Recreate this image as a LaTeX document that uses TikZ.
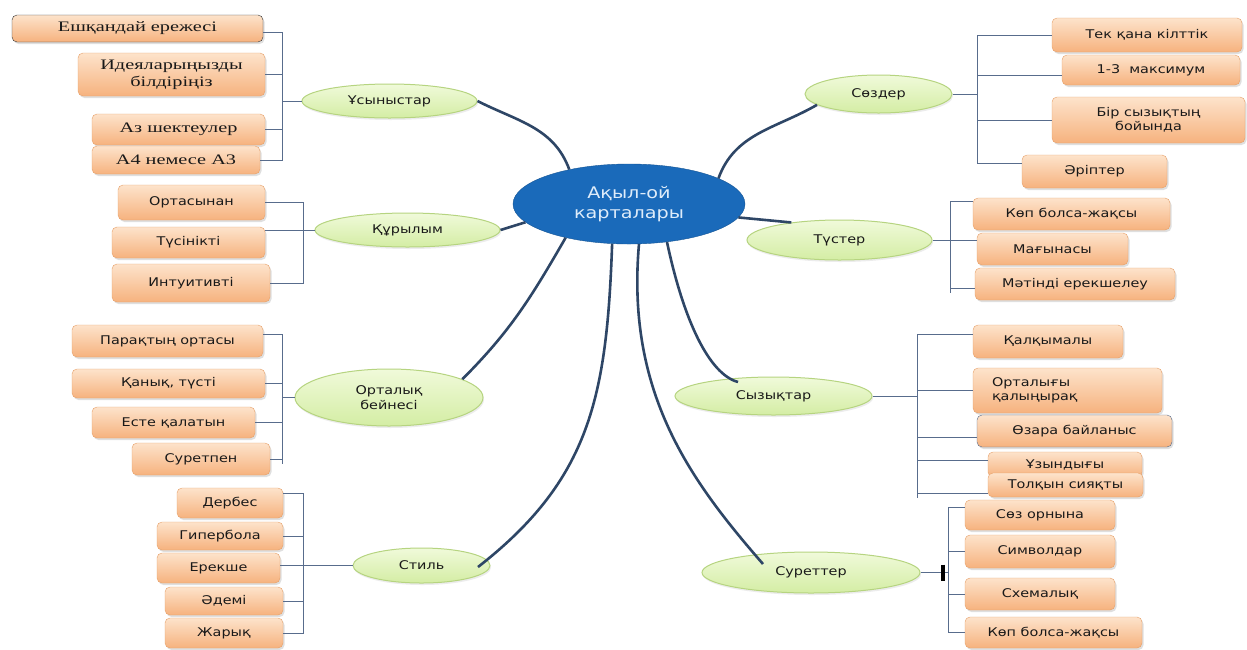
\documentclass[tikz,border=0pt]{standalone}
\usepackage{fontspec}
\setmainfont{DejaVu Sans}[FakeStretch=1.2]
\newfontfamily\kzserif{Liberation Serif}[FakeStretch=1.4]
\usetikzlibrary{shapes.geometric,shadows}

\definecolor{boxtop}{RGB}{253,227,203}
\definecolor{boxbot}{RGB}{246,178,126}
\definecolor{boxline}{RGB}{230,160,105}
\definecolor{leaftop}{RGB}{240,250,218}
\definecolor{leafbot}{RGB}{212,237,164}
\definecolor{leafline}{RGB}{182,212,128}
\definecolor{hubblue}{RGB}{26,106,186}
\definecolor{hubtext}{RGB}{222,236,250}
\definecolor{branchcol}{RGB}{46,70,102}
\definecolor{bracecol}{RGB}{88,108,140}

\begin{document}
\begin{tikzpicture}[x=1pt, y=-1pt,
    item/.style={rectangle, rounded corners=5pt, draw=boxline, top color=boxtop, bottom color=boxbot,
        inner sep=2pt, align=center, text=black!90, font=\fontsize{12}{14.5}\selectfont,
        drop shadow={shadow xshift=1.5pt, shadow yshift=-2pt, opacity=.25}},
    seritem/.style={item, font=\kzserif\fontsize{14.5}{17}\selectfont},
    topic/.style={ellipse, draw=leafline, line width=1pt, top color=leaftop, bottom color=leafbot,
        inner sep=0pt, align=center, text=black!90, font=\fontsize{12}{14.5}\selectfont,
        drop shadow={shadow xshift=1pt, shadow yshift=-2pt, opacity=.15}},
    hub/.style={ellipse, fill=hubblue, draw=hubblue!80!black, text=hubtext, align=center,
        font=\fontsize{16}{20}\selectfont},
    link/.style={draw=branchcol, line width=2.6pt},
    rib/.style={draw=bracecol, line width=1pt}]

    \path [fill=white] (0,0) rectangle (1247,649);

    % bracket columns
    \coordinate (ba) at (282,0);
    \coordinate (bb) at (303,0);
    \coordinate (bc) at (282,0);
    \coordinate (bd) at (303,0);
    \coordinate (be) at (977,0);
    \coordinate (bf) at (950,0);
    \coordinate (bg) at (917,0);
    \coordinate (bh) at (948,0);
    \coordinate (bar) at (943,0);

    \node [hub, minimum width=232, minimum height=80] (hub) at (629,204) {Ақыл-ой\\карталары};

    % left side
    \node [topic, minimum width=175, minimum height=34] (usy) at (389.5,101) {Ұсыныстар};
    \node [seritem, draw=black!80, minimum width=251, minimum height=27] (u1) at (137.5,28.5) {Ешқандай ережесі};
    \node [seritem, minimum width=187, minimum height=43] (u2) at (171.5,74.5) {Идеяларыңызды\\білдіріңіз};
    \node [seritem, minimum width=173, minimum height=31] (u3) at (178.5,129.5) {Аз шектеулер};
    \node [seritem, minimum width=168, minimum height=28] (u4) at (176,160) {А4 немесе А3};

    \node [topic, minimum width=185, minimum height=34] (kur) at (407.5,230) {Құрылым};
    \node [item, minimum width=147, minimum height=35] (k1) at (191.5,202.5) {Ортасынан};
    \node [item, minimum width=153, minimum height=31] (k2) at (188.5,242.5) {Түсінікті};
    \node [item, minimum width=158, minimum height=38] (k3) at (191,283) {Интуитивті};

    \node [topic, minimum width=188, minimum height=57] (ort) at (389,397.5) {Орталық\\бейнесі};
    \node [item, minimum width=191, minimum height=32] (o1) at (167.5,341) {Парақтың ортасы};
    \node [item, minimum width=193, minimum height=29] (o2) at (168.5,383.5) {Қанық, түсті};
    \node [item, minimum width=163, minimum height=31] (o3) at (173.5,422.5) {Есте қалатын};
    \node [item, minimum width=138, minimum height=32] (o4) at (201,459) {Суретпен};

    \node [topic, minimum width=137, minimum height=35] (sti) at (421.5,565.5) {Стиль};
    \node [item, minimum width=106, minimum height=30] (s1) at (230,503) {Дербес};
    \node [item, minimum width=126, minimum height=28] (s2) at (220,536) {Гипербола};
    \node [item, minimum width=123, minimum height=30] (s3) at (218.5,568) {Ерекше};
    \node [item, minimum width=118, minimum height=28] (s4) at (224,601) {Әдемі};
    \node [item, minimum width=118, minimum height=30] (s5) at (224,633) {Жарық};

    % right side
    \node [topic, minimum width=147, minimum height=38] (soz) at (878.5,94) {Сөздер};
    \node [item, minimum width=190, minimum height=34] (w1) at (1147,35) {Тек қана кілттік};
    \node [item, minimum width=178, minimum height=30] (w2) at (1151,70) {1-3~ максимум};
    \node [item, minimum width=193, minimum height=46] (w3) at (1148.5,120) {Бір сызықтың\\бойында};
    \node [item, minimum width=145, minimum height=33] (w4) at (1094.5,171.5) {Әріптер};

    \node [topic, minimum width=185, minimum height=40] (tus) at (839.5,240) {Түстер};
    \node [item, minimum width=197, minimum height=32] (c1) at (1071.5,214) {Көп болса-жақсы};
    \node [item, minimum width=151, minimum height=32] (c2) at (1052.5,249) {Мағынасы};
    \node [item, minimum width=200, minimum height=32] (c3) at (1075,284) {Мәтінді ерекшелеу};

    \node [topic, minimum width=197, minimum height=38] (syz) at (773.5,396) {Сызықтар};
    \node [item, minimum width=150, minimum height=33] (l1) at (1048,341.5) {Қалқымалы};
    \node [item, align=left, text width=151, inner xsep=19pt, minimum height=45] (l2) at (1067.5,390.5) {Орталығы\\қалыңырақ};
    \node [item, draw=bracecol, minimum width=195, minimum height=32] (l3) at (1074.5,431) {Өзара байланыс};
    \node [item, minimum width=154, minimum height=25] (l4) at (1065,464.5) {Ұзындығы};
    \node [item, minimum width=155, minimum height=24] (l5) at (1065.5,485) {Толқын сияқты};

    \node [topic, minimum width=218, minimum height=41] (sur) at (811,572.5) {Суреттер};
    \node [item, minimum width=150, minimum height=30] (p1) at (1040,515) {Сөз орнына};
    \node [item, minimum width=150, minimum height=33] (p2) at (1040,551.5) {Символдар};
    \node [item, minimum width=150, minimum height=32] (p3) at (1040,594) {Схемалық};
    \node [item, minimum width=177, minimum height=31] (p4) at (1053.5,632.5) {Көп болса-жақсы};

    % brackets, left
    \draw [rib] ([yshift=-4pt]u1.east) -- ([yshift=-4pt]u1.east -| ba) -- (u4.east -| ba) -- (u4.east);
    \draw [rib] (u2.east) -- (u2.east -| ba);
    \draw [rib] (u3.east) -- (u3.east -| ba);
    \draw [rib] (usy.west) -- (usy.west -| ba);

    \draw [rib] (k1.east) -- (k1.east -| bb) -- (k3.east -| bb) -- (k3.east);
    \draw [rib] (k2.east |- kur.west) -- (kur.west);

    \draw [rib] ([yshift=7pt]o1.east) -- ([yshift=7pt]o1.east -| bc) -- ([yshift=-5pt]o4.east -| bc);
    \draw [rib] (o4.east) -- (o4.east -| bc);
    \draw [rib] (o2.east) -- (o2.east -| bc);
    \draw [rib] (o3.east) -- (o3.east -| bc);
    \draw [rib] (ort.west) -- (ort.west -| bc);

    \draw [rib] ([yshift=10pt]s1.east) -- ([yshift=10pt]s1.east -| bd) -- (s5.east -| bd) -- (s5.east);
    \draw [rib] (s2.east) -- (s2.east -| bd);
    \draw [rib] (s4.east) -- (s4.east -| bd);
    \draw [rib] (s3.east |- sti.west) -- (sti.west);

    % brackets, right
    \draw [rib] (w1.west) -- (w1.west -| be) -- ([yshift=8pt]w4.west -| be) -- ([yshift=8pt]w4.west);
    \draw [rib] ([yshift=-5pt]w2.west) -- ([yshift=-5pt]w2.west -| be);
    \draw [rib] (w3.west) -- (w3.west -| be);
    \draw [rib] (soz.east) -- (soz.east -| be);

    \draw [rib] ([yshift=13pt]c1.west) -- ([yshift=13pt]c1.west -| bf) -- ([yshift=-9pt]c3.west -| bf);
    \draw [rib] ([yshift=-4pt]c3.west) -- ([yshift=-4pt]c3.west -| bf);
    \draw [rib] (c2.west |- tus.east) -- (tus.east);

    \draw [rib] ([yshift=7pt]l1.west) -- ([yshift=7pt]l1.west -| bg) -- ([yshift=-13pt]l5.west -| bg);
    \draw [rib] ([yshift=-8pt]l5.west) -- ([yshift=-8pt]l5.west -| bg);
    \draw [rib] (l2.west) -- (l2.west -| bg);
    \draw [rib] ([yshift=-6pt]l3.west) -- ([yshift=-6pt]l3.west -| bg);
    \draw [rib] ([yshift=4pt]l4.west) -- ([yshift=4pt]l4.west -| bg);
    \draw [rib] (syz.east) -- (syz.east -| bg);

    \draw [rib] ([yshift=8pt]p1.west) -- ([yshift=8pt]p1.west -| bh) -- (p4.west -| bh) -- (p4.west);
    \draw [rib] (p2.west) -- (p2.west -| bh);
    \draw [rib] (p3.west) -- (p3.west -| bh);
    \draw [rib] (sur.east) -- (sur.east -| bh);
    \draw [line width=3.5pt] ([yshift=8pt]sur.east -| bar) -- ([yshift=-8pt]sur.east -| bar);

    % main branches
    \coordinate (stiend) at (478,567);
    \coordinate (surend) at (763,564);
    \coordinate (syzend) at (738,382);
    \draw [link] (hub.150) to[out=110, in=-27] (usy.east);
    \draw [link] (hub.16) to[out=70, in=210] (soz.190);
    \draw [link] (hub.190) -- (kur.east);
    \draw [link] (hub.-7) -- (tus.160);
    \draw [link] (hub.208) to[out=240, in=45] (ort.14);
    \draw [link] (hub.247) to[out=268, in=38, out distance=154pt, in distance=142pt] (stiend);
    \draw [link] (hub.284) to[out=265, in=131, out distance=150pt, in distance=110pt] (surend);
    \draw [link] (hub.315) to[out=282, in=165, out distance=80pt, in distance=30pt] (syzend);

\end{tikzpicture}
\end{document}
